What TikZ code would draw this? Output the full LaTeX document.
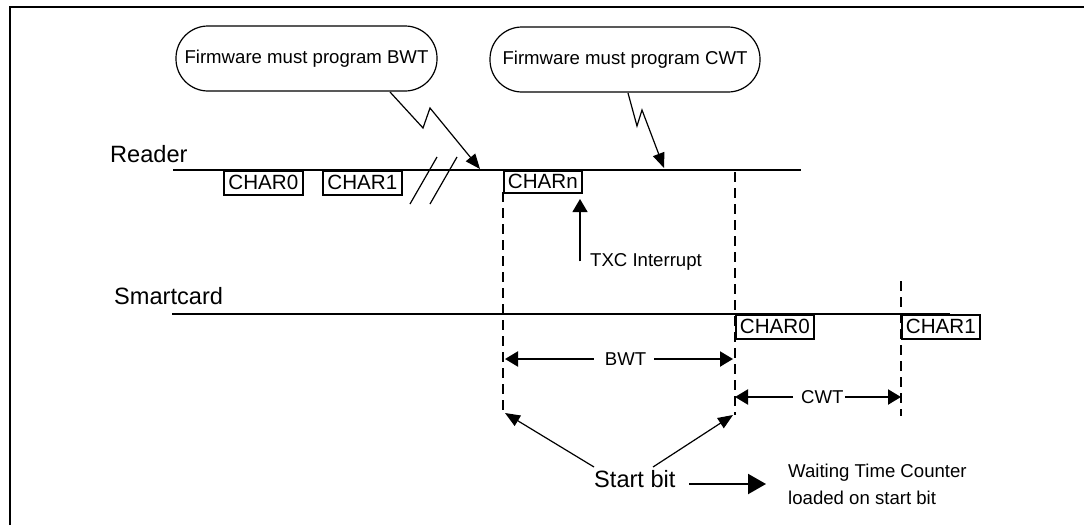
\documentclass[tikz,border=0pt]{standalone}
\usepackage{fontspec}
\setmainfont{Liberation Sans}
\usetikzlibrary{arrows.meta}
\begin{document}
\begin{tikzpicture}[x=1pt,y=-1pt,
  bigfont/.style={font=\fontsize{23.6}{28}\selectfont},
  charfont/.style={font=\fontsize{20.6}{24}\selectfont},
  smallfont/.style={font=\fontsize{18.6}{27}\selectfont},
  lbl/.style={inner sep=0pt, anchor=base west},
  charbox/.style={draw, line width=1.8pt, inner sep=0pt, minimum width=78pt, minimum height=24pt, anchor=north west, charfont},
  bubble/.style={draw, line width=1.2pt, rounded corners=32pt, minimum height=65pt, smallfont, inner sep=0pt},
  timeline/.style={line width=2pt},
  guide/.style={line width=2pt, dash pattern=on 10pt off 6pt},
  breakmark/.style={line width=1.2pt},
  zig/.style={line width=1.2pt, -{Triangle[length=15pt,width=12pt]}},
  ptr/.style={line width=1.2pt, -{Triangle[length=15pt,width=12pt]}},
  uparrow/.style={line width=1.2pt, -{Triangle[length=13pt,width=15pt]}},
  dimarrow/.style={line width=2.2pt, -{Triangle[length=13pt,width=15pt]}},
  bigarr/.style={line width=2.2pt, -{Triangle[length=18pt,width=20pt]}}
]
\useasboundingbox (0,0) rectangle (1084,525);
% frame
\draw[line width=2.5pt] (10,525) -- (10,7) -- (1084,7);

% notes
\node[bubble, minimum width=261pt] (bwtnote) at (306.5,58.5) {Firmware must program BWT};
\node[bubble, minimum width=270pt] (cwtnote) at (625,59.5) {Firmware must program CWT};

% labels
\node[lbl, bigfont] (reader) at (110,162.7) {Reader};
\node[lbl, bigfont] (smart) at (114,304) {Smartcard};

% timelines
\coordinate (rl0) at (173,170);
\coordinate (rl1) at (801,170);
\coordinate (sl0) at (172,314);
\coordinate (sl1) at (950,314);
\draw[timeline] (rl0) -- (rl1);
\draw[timeline] (sl0) -- (sl1);

% characters
\node[charbox, minimum width=79pt] (rc0) at (223,170) {CHAR0};
\node[charbox, minimum width=79pt] (rc1) at (322,170) {CHAR1};
\node[charbox, minimum height=22pt] (rcn) at (503,170) {CHARn};
\node[charbox] (sc0) at (735,314) {CHAR0};
\node[charbox] (sc1) at (901,314) {CHAR1};

% break marks
\draw[breakmark] (410,204) -- (437,157);
\draw[breakmark] (430,204) -- (457,157);

% zigzag pointers
\coordinate (zb0) at (390,92);
\coordinate (zb1) at (423,128);
\coordinate (zb2) at (430,108);
\coordinate (zbt) at (480,169);
\draw[zig] (zb0) -- (zb1) -- (zb2) -- (zbt);
\coordinate (zc0) at (628,93);
\coordinate (zc1) at (637,126);
\coordinate (zc2) at (642,110);
\coordinate (zct) at (664,168);
\draw[zig] (zc0) -- (zc1) -- (zc2) -- (zct);

% guides
\coordinate (g1a) at (503,192);
\coordinate (g1b) at (503,412);
\coordinate (g2a) at (735,172);
\coordinate (g2b) at (735,415);
\coordinate (g3a) at (901,281);
\coordinate (g3b) at (901,416);
\draw[guide] (g1a) -- (g1b);
\draw[guide] (g2a) -- (g2b);
\draw[guide] (g3a) -- (g3b);

% TXC interrupt
\node[lbl, smallfont] (txc) at (590,266) {TXC Interrupt};
\coordinate (txctip) at (580,199);
\draw[uparrow] ([xshift=-10pt]txc.west) -- (txctip);

% BWT
\node[smallfont, inner sep=0pt] (bwt) at (625.5,359) {BWT};
\coordinate (bwtL) at (505,359);
\coordinate (bwtR) at (733,359);
\draw[dimarrow] ([xshift=-11pt]bwt.west) -- (bwtL);
\draw[dimarrow] ([xshift=8pt]bwt.east) -- (bwtR);

% CWT
\node[smallfont, inner sep=0pt] (cwt) at (822.4,397) {CWT};
\coordinate (cwtL) at (735,397);
\coordinate (cwtR) at (901,397);
\draw[dimarrow] ([xshift=-8pt]cwt.west) -- (cwtL);
\draw[dimarrow] ([xshift=1pt]cwt.east) -- (cwtR);

% start bit
\node[lbl, bigfont] (start) at (594,487.5) {Start bit};
\coordinate (sbL) at (594,467);
\coordinate (sbR) at (653,467);
\coordinate (sbLt) at (505,413);
\coordinate (sbRt) at (733,415);
\draw[ptr] (sbL) -- (sbLt);
\draw[ptr] (sbR) -- (sbRt);

\node[lbl, smallfont] (wtc1) at (788,477.3) {Waiting Time Counter};
\node[lbl, smallfont] (wtc2) at (788,504.3) {loaded on start bit};
\coordinate (wa0) at (689,484);
\coordinate (wa1) at (766,484);
\draw[bigarr] (wa0) -- (wa1);
\end{tikzpicture}
\end{document}
